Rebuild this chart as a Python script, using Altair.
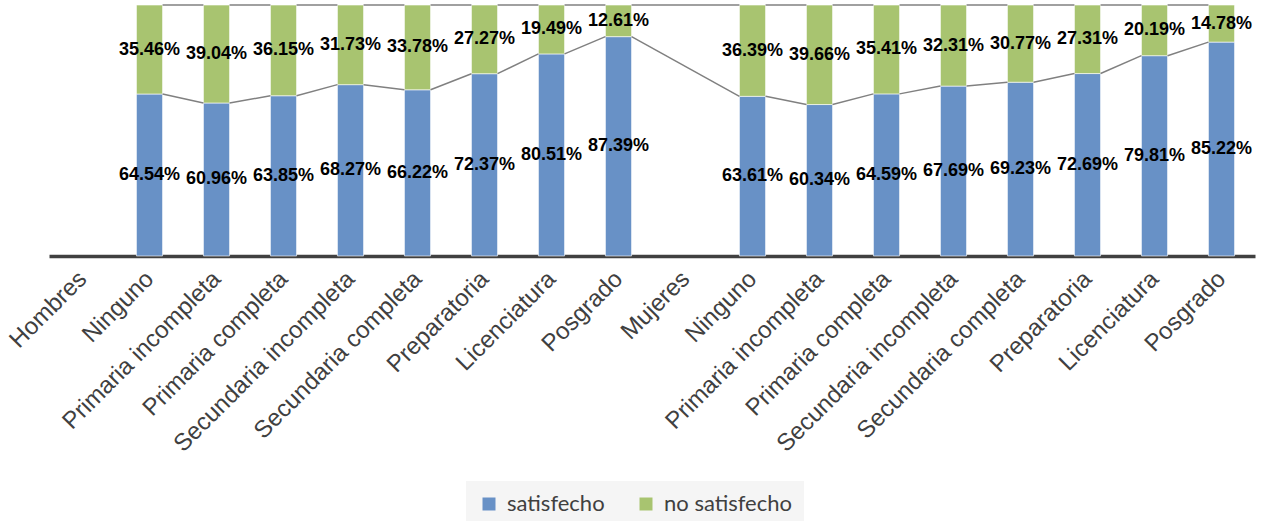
import altair as alt
import pandas as pd

categories = ["Hombres", "Ninguno", "Primaria incompleta", "Primaria completa",
              "Secundaria incompleta", "Secundaria completa", "Preparatoria",
              "Licenciatura", "Posgrado", "Mujeres", "Ninguno", "Primaria incompleta",
              "Primaria completa", "Secundaria incompleta", "Secundaria completa",
              "Preparatoria", "Licenciatura", "Posgrado"]
satisfecho = [None, 64.54, 60.96, 63.85, 68.27, 66.22, 72.37, 80.51, 87.39,
              None, 63.61, 60.34, 64.59, 67.69, 69.23, 72.69, 79.81, 85.22]
no_satisfecho = [None, 35.46, 39.04, 36.15, 31.73, 33.78, 27.27, 19.49, 12.61,
                 None, 36.39, 39.66, 35.41, 32.31, 30.77, 27.31, 20.19, 14.78]
series = ["satisfecho", "no satisfecho"]
colors = ["#6891c6", "#a8c470"]

HW = 0.195  # half bar width, in category units

rows = []
share = {}
for i, (s, n) in enumerate(zip(satisfecho, no_satisfecho)):
    if s is None:
        continue
    tot = s + n
    f = s / tot
    share[i] = f
    rows.append(dict(x=i, x0=i - HW, x1=i + HW, serie=series[0], y0=0.0, y1=f,
                     mid=f / 2, label=s / 100))
    rows.append(dict(x=i, x0=i - HW, x1=i + HW, serie=series[1], y0=f, y1=1.0,
                     mid=(f + 1) / 2, label=n / 100))
df = pd.DataFrame(rows)

idxs = sorted(share)
segs = []
for a, b in zip(idxs[:-1], idxs[1:]):
    segs.append(dict(xa=a + HW, xb=b - HW, ya=share[a], yb=share[b]))
    segs.append(dict(xa=a + HW, xb=b - HW, ya=1.0, yb=1.0))
seg_df = pd.DataFrame(segs)

labels_js = "[" + ",".join("'" + c + "'" for c in categories) + "]"
x_scale = alt.Scale(domain=[-0.5, len(categories) - 0.5], nice=False, zero=False)
y_scale = alt.Scale(domain=[0, 1], nice=False, zero=True)

x_axis = alt.Axis(values=list(range(len(categories))), labelExpr=labels_js + "[datum.value]",
                  title=None, grid=False, ticks=False, domainColor="#404040", domainWidth=3.5,
                  labelAngle=315, labelAlign="right", labelBaseline="middle",
                  labelFont="Liberation Sans", labelFontSize=24, labelColor="#404040",
                  labelPadding=19, labelOverlap=False, labelFlush=False, labelBound=False,
                  labelLimit=500)

bars = alt.Chart(df).mark_bar(stroke="white", strokeWidth=1, strokeOpacity=0.6).encode(
    x=alt.X("x0:Q", scale=x_scale, axis=x_axis),
    x2="x1:Q",
    y=alt.Y("y0:Q", scale=y_scale, axis=None),
    y2="y1:Q",
    color=alt.Color("serie:N", scale=alt.Scale(domain=series, range=colors),
                    legend=alt.Legend(orient="none", legendX=417, legendY=476,
                                      direction="horizontal", title=None,
                                      symbolType="square", symbolSize=169,
                                      symbolStrokeWidth=0, labelFont="Lato",
                                      labelFontSize=22, labelColor="#404040",
                                      labelOffset=7, columnPadding=30,
                                      fillColor="#f5f5f5", padding=12)),
)

lines = alt.Chart(seg_df).mark_rule(color="#808080", strokeWidth=1.5).encode(
    x=alt.X("xa:Q", scale=x_scale, axis=x_axis),
    x2="xb:Q",
    y=alt.Y("ya:Q", scale=y_scale, axis=None),
    y2="yb:Q",
)

text = alt.Chart(df).mark_text(font="Liberation Sans", fontWeight="bold", fontSize=18,
                               color="black", baseline="middle", align="center").encode(
    x=alt.X("x:Q", scale=x_scale, axis=x_axis),
    y=alt.Y("mid:Q", scale=y_scale, axis=None),
    text=alt.Text("label:Q", format=".2%"),
)

chart = alt.layer(bars, lines, text).properties(
    width=1206, height=251,
    autosize=alt.AutoSizeParams(type="none"),
    padding={"left": 49, "top": 5, "right": 10, "bottom": 265},
    background="white",
).configure_view(stroke=None)

chart.save("out.html", embed_options={"renderer": "svg", "actions": False})
